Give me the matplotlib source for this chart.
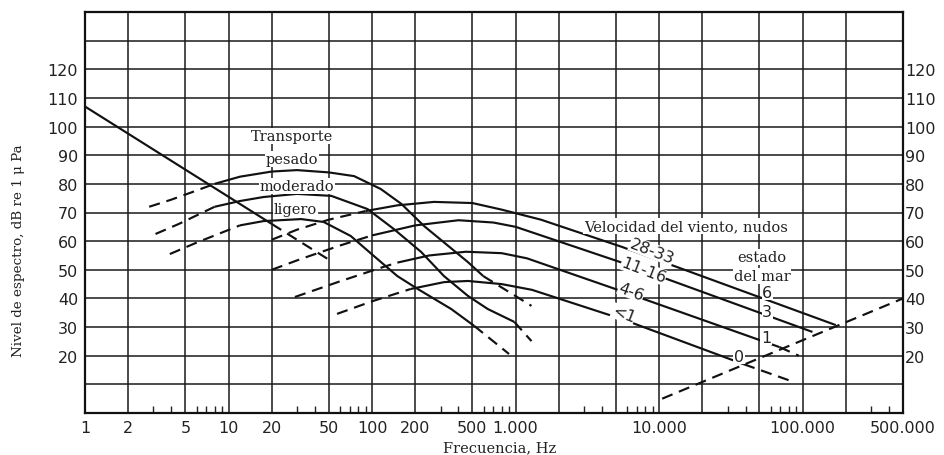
import matplotlib
matplotlib.use("Agg")
import matplotlib.pyplot as plt
from matplotlib.ticker import FixedLocator, NullFormatter

# ---------------- axis ticks ----------------
x_ticks = [1, 2, 5, 10, 20, 50, 100, 200, 500, 1000, 2000, 5000,
           10000, 20000, 50000, 100000, 200000, 500000]
x_tick_labels = ["1", "2", "5", "10", "20", "50", "100", "200", "500", "1.000",
                 "", "", "10.000", "", "", "100.000", "", "500.000"]
x_minor = [m * d for d in (1, 10, 100, 1000, 10000, 100000)
           for m in (3, 4, 6, 7, 8, 9)]
y_ticks = [0, 10, 20, 30, 40, 50, 60, 70, 80, 90, 100, 110, 120, 130, 140]
y_tick_labels = ["", "", "20", "30", "40", "50", "60", "70", "80", "90",
                 "100", "110", "120", "", ""]

# ---------------- turbulence ----------------
turb_solid_f = [1, 20]
turb_solid_db = [107, 66]
turb_dash_f = [20, 52]
turb_dash_db = [66, 53]

# ---------------- shipping (Transporte) ----------------
pesado_lo_f = [2.8, 4, 5.5, 8]
pesado_lo_db = [72, 74.5, 77, 80]
pesado_f = [8, 12, 20, 30, 50, 75, 115, 160, 230, 340, 465, 595]
pesado_db = [80, 82.5, 84.3, 84.8, 84, 82.7, 78.2, 73, 65.3, 58.3, 52.7, 47.8]
pesado_hi_f = [595, 1290]
pesado_hi_db = [47.8, 37.4]

moderado_lo_f = [3.1, 4.5, 6, 8]
moderado_lo_db = [62.5, 66, 69, 72]
moderado_f = [8, 12, 17.5, 30, 52, 93, 142, 220, 317, 465, 640, 980]
moderado_db = [72, 74, 75.4, 76.5, 75.8, 71.2, 64.2, 56.2, 47.8, 40.9, 36.3, 31.8]
moderado_hi_f = [980, 1290]
moderado_hi_db = [31.8, 25.1]

ligero_lo_f = [3.9, 6, 9, 12]
ligero_lo_db = [55.5, 59.5, 63, 65.5]
ligero_f = [12, 17.5, 32, 46, 71, 103, 150, 208, 356, 515]
ligero_db = [65.5, 67, 67.7, 66.7, 61.8, 54.8, 47.8, 43.3, 36.3, 30.4]
ligero_hi_f = [515, 900]
ligero_hi_db = [30.4, 20.6]

# ---------------- wind speed (Velocidad del viento) ----------------
w28_lo_f = [20, 30, 50, 90]
w28_lo_db = [60.5, 64, 67.5, 70.5]
w28_f = [90, 150, 270, 500, 800, 1500, 5500, 170000]
w28_db = [70.5, 72.5, 73.7, 73.3, 71.0, 67.5, 58.0, 30.7]

w11_lo_f = [20, 32, 60, 100]
w11_lo_db = [50, 53.8, 58.5, 62]
w11_f = [100, 200, 400, 700, 1000, 5500, 117000]
w11_db = [62, 65.5, 67.3, 66.5, 65.0, 52.5, 28.3]

w4_lo_f = [29, 60, 120, 150]
w4_lo_db = [40.5, 46, 51, 52.5]
w4_f = [150, 250, 450, 800, 1200, 5500, 69000]
w4_db = [52.5, 55, 56.3, 55.8, 54.0, 42.5, 23]
w4_hi_f = [69000, 94000]
w4_hi_db = [23, 20]

w0_lo_f = [57, 100, 186]
w0_lo_db = [34.6, 39, 43.3]
w0_f = [186, 318, 465, 800, 1300, 5500, 39000]
w0_db = [43.3, 45.7, 46.1, 45.0, 43.0, 32.8, 17]
w0_hi_f = [39000, 87000]
w0_hi_db = [17, 10.8]

# ---------------- thermal noise ----------------
thermal_f = [10500, 500000]
thermal_db = [5, 40]

# ---------------- figure ----------------
SERIF = ["DejaVu Serif"]
SANS = ["DejaVu Sans"]

fig = plt.figure(figsize=(9.45, 4.56), dpi=100)
ax = fig.add_axes([85 / 945, 1 - 414 / 456, (903 - 85) / 945, (414 - 13) / 456])
ax.set_xscale("log")
ax.set_xlim(1, 500000)
ax.set_ylim(0, 140)

ax.xaxis.set_major_locator(FixedLocator(x_ticks))
ax.set_xticklabels(x_tick_labels, fontfamily=SANS, fontsize=11.5, color="#222222")
ax.xaxis.set_minor_locator(FixedLocator(x_minor))
ax.xaxis.set_minor_formatter(NullFormatter())
ax.tick_params(axis="x", which="major", length=0, pad=5)
ax.tick_params(axis="x", which="minor", direction="in", length=5, width=1.0,
               color="#222222", top=False)

ax.set_yticks(y_ticks)
ax.set_yticklabels(y_tick_labels, fontfamily=SANS, fontsize=11.5, color="#222222")
ax.tick_params(axis="y", which="both", length=0, pad=5)

# duplicate level scale on the right-hand side
ax_r = ax.twinx()
ax_r.set_ylim(ax.get_ylim())
ax_r.set_yticks(y_ticks)
ax_r.set_yticklabels(y_tick_labels, fontfamily=SANS, fontsize=11.5, color="#222222")
ax_r.tick_params(axis="y", which="both", length=0, pad=1.5)
for s in ax_r.spines.values():
    s.set_visible(False)

ax.grid(True, which="major", color="#1a1a1a", linewidth=1.1)
ax.set_axisbelow(True)
for s in ax.spines.values():
    s.set_linewidth(1.6)
    s.set_color("#111111")

LW = 1.55
DASH = (0, (5.2, 3.2))


def solid(f, db):
    ax.plot(f, db, color="#111111", lw=LW, solid_capstyle="butt", zorder=3)


def dashed(f, db):
    ax.plot(f, db, color="#111111", lw=LW, linestyle=DASH, zorder=3)


solid(turb_solid_f, turb_solid_db)
dashed(turb_dash_f, turb_dash_db)

dashed(pesado_lo_f, pesado_lo_db)
solid(pesado_f, pesado_db)
dashed(pesado_hi_f, pesado_hi_db)

dashed(moderado_lo_f, moderado_lo_db)
solid(moderado_f, moderado_db)
dashed(moderado_hi_f, moderado_hi_db)

dashed(ligero_lo_f, ligero_lo_db)
solid(ligero_f, ligero_db)
dashed(ligero_hi_f, ligero_hi_db)

dashed(w28_lo_f, w28_lo_db)
solid(w28_f, w28_db)

dashed(w11_lo_f, w11_lo_db)
solid(w11_f, w11_db)

dashed(w4_lo_f, w4_lo_db)
solid(w4_f, w4_db)
dashed(w4_hi_f, w4_hi_db)

dashed(w0_lo_f, w0_lo_db)
solid(w0_f, w0_db)
dashed(w0_hi_f, w0_hi_db)

dashed(thermal_f, thermal_db)

# ---------------- annotations ----------------
box = dict(facecolor="white", edgecolor="none", pad=0.5)
tkw = dict(fontfamily=SERIF, fontsize=10.5, ha="center", va="center",
           zorder=4, color="#222222")

ax.text(27.5, 96.7, "Transporte", bbox=box, **tkw)
ax.text(27.5, 88.7, "pesado", bbox=box, **tkw)
ax.text(29.8, 79.3, "moderado", bbox=box, **tkw)
ax.text(29.3, 71.2, "ligero", bbox=box, **tkw)

ax.text(15300, 65.3, "Velocidad del viento, nudos", bbox=box, **tkw)
ax.text(52000, 54.5, "estado", bbox=box, **tkw)
ax.text(52000, 47.8, "del mar", bbox=box, **tkw)

rot = dict(fontfamily=SANS, fontsize=11.5, ha="center", va="center",
           rotation=-21, rotation_mode="anchor", zorder=4, color="#222222")
rbox = dict(facecolor="white", edgecolor="none", pad=0.2)
ax.text(8900, 56.6, "28-33", bbox=rbox, **rot)
ax.text(7800, 49.9, "11-16", bbox=rbox, **rot)
ax.text(6400, 42.6, "4-6", bbox=rbox, **rot)
ax.text(5650, 34.6, "<1", bbox=rbox, **rot)

nkw = dict(fontfamily=SANS, fontsize=11.5, ha="center", va="center",
           zorder=4, color="#222222")
nbox = dict(facecolor="white", edgecolor="none", pad=0.3)
ax.text(56500, 42.2, "6", bbox=nbox, **nkw)
ax.text(56500, 35.3, "3", bbox=nbox, **nkw)
ax.text(55500, 26.5, "1", bbox=nbox, **nkw)
ax.text(36000, 19.9, "0", bbox=nbox, **nkw)

fig.text(500 / 945, 1 - 448 / 456, "Frecuencia, Hz", fontfamily=SERIF,
         fontsize=10.5, ha="center", va="center", color="#222222")
fig.text(19 / 945, 1 - 251 / 456, "Nivel de espectro, dB re 1 \u03bc Pa",
         fontfamily=SERIF, fontsize=9.7, ha="center", va="center",
         rotation=90, color="#222222")

fig.savefig("out.png", dpi=100, facecolor="white")
